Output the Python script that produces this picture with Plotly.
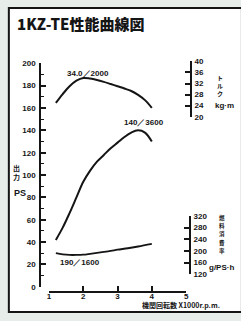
import plotly.graph_objects as go

# ---- data ----
rpm = [1.2, 1.4, 1.6, 1.8, 2.0, 2.2, 2.4, 2.6, 2.8, 3.0, 3.2, 3.4, 3.6, 3.8, 4.0]
power_ps = [42, 53, 66, 80, 94, 104, 112, 118, 124, 129, 134, 138, 140, 138, 130]
torque_kgm = [25.0, 28.2, 31.0, 33.0, 34.0, 33.8, 33.3, 32.6, 31.8, 31.0, 30.2, 29.3, 27.9, 26.0, 23.2]
fuel_rpm = [1.2, 1.4, 1.6, 1.8, 2.0, 2.2, 2.5, 2.8, 3.0, 3.3, 3.6, 4.0]
fuel_g = [192, 188, 186, 186, 187, 190, 195, 200, 204, 209, 215, 224]

rpm_ticks = [1, 2, 3, 4, 5]
ps_ticks = [0, 20, 40, 60, 80, 100, 120, 140, 160, 180, 200]
torque_ticks = [20, 24, 28, 32, 36, 40]
fuel_ticks = [120, 160, 200, 240, 280, 320]

title_text = "1KZ-TE性能曲線図"
note_torque = "34.0／2000"
note_power = "140／3600"
note_fuel = "190／1600"

W, H = 241, 321


def fx(p):
    return p / W


def fy(p):
    return 1 - p / H


INK = "#151515"
NUM_FONT = dict(family="Liberation Sans Narrow, Liberation Sans, Arial", size=8, color=INK, weight="bold")
JP = "Noto Sans CJK JP"

fig = go.Figure()
fig.add_trace(go.Scatter(x=rpm, y=power_ps, mode="lines", line=dict(color=INK, width=2, shape="spline"),
                         xaxis="x", yaxis="y", hoverinfo="skip"))
fig.add_trace(go.Scatter(x=rpm, y=torque_kgm, mode="lines", line=dict(color=INK, width=2, shape="spline"),
                         xaxis="x", yaxis="y2", hoverinfo="skip"))
fig.add_trace(go.Scatter(x=fuel_rpm, y=fuel_g, mode="lines", line=dict(color=INK, width=1.8, shape="spline"),
                         xaxis="x", yaxis="y3", hoverinfo="skip"))

axis_common = dict(showgrid=False, zeroline=False, showline=True, linecolor=INK, linewidth=1.8,
                   tickcolor=INK, tickwidth=1.5, ticks="inside", ticklen=5, tickfont=NUM_FONT,
                   fixedrange=True)

fig.update_layout(
    width=W, height=H,
    margin=dict(l=0, r=0, t=0, b=0),
    paper_bgcolor="#e7ede9",
    plot_bgcolor="rgba(0,0,0,0)",
    showlegend=False,
    xaxis=dict(domain=[fx(48), fx(188)], range=[1, 5], anchor="free", position=fy(296),
               tickvals=rpm_ticks, ticktext=[str(t) for t in rpm_ticks], ticklabelstandoff=-3,
               **axis_common),
    yaxis=dict(domain=[fy(291), fy(61)], range=[0, 200], anchor="free", position=fx(39), side="left",
               tickvals=ps_ticks, ticklabelstandoff=2,
               minor=dict(dtick=10, ticks="inside", ticklen=3, tickcolor=INK, tickwidth=1.2),
               **axis_common),
    yaxis2=dict(domain=[fy(116), fy(59)], range=[20, 40], anchor="free", position=fx(193), side="right",
                tickvals=torque_ticks, ticklabelstandoff=1, **axis_common),
    yaxis3=dict(domain=[fy(278), fy(218)], range=[120, 320], anchor="free", position=fx(192), side="right",
                tickvals=fuel_ticks, ticklabelstandoff=1, **axis_common),
)

# frame
fig.add_shape(type="rect", xref="paper", yref="paper", x0=fx(7), x1=fx(245), y0=fy(317), y1=fy(4),
              line=dict(color=INK, width=2), fillcolor="white", layer="below")


def note(text, x, y, size=8, anchor="center", family=None, weight="bold", color=INK):
    fig.add_annotation(text=text, xref="paper", yref="paper", x=fx(x), y=fy(y), showarrow=False,
                       xanchor=anchor, yanchor="middle", borderpad=0,
                       font=dict(family=family or NUM_FONT["family"], size=size, color=color, weight=weight))


# title
note(title_text, 14, 20, size=15, anchor="left", family=JP, weight=900)

# curve notes
note(note_torque, 88, 71)
note(note_power, 145, 122)
note(note_fuel, 80, 266)

# left axis label
note("出", 15, 169, size=7, family=JP)
note("力", 15, 178, size=7, family=JP)
note("PS", 18, 194, size=9)

# torque label
note("ト<br>ル<br>ク", 223, 84, size=6, family=JP)
note("kg·m", 227, 104, size=8)

# fuel label
for i, ch in enumerate("燃料消費率"):
    note(ch, 225, 220 + i * 8.5, size=5.5, family=JP)
note("g/PS·h", 210, 271, size=8, anchor="left")

# x label
note("機関回転数 X1000r.p.m.", 142, 310, size=7, anchor="left", family="Liberation Sans Narrow, " + JP)

fig.write_html("out.html", config={"displayModeBar": False},
               post_script="document.body.style.margin='0px';document.body.style.overflow='hidden';")
